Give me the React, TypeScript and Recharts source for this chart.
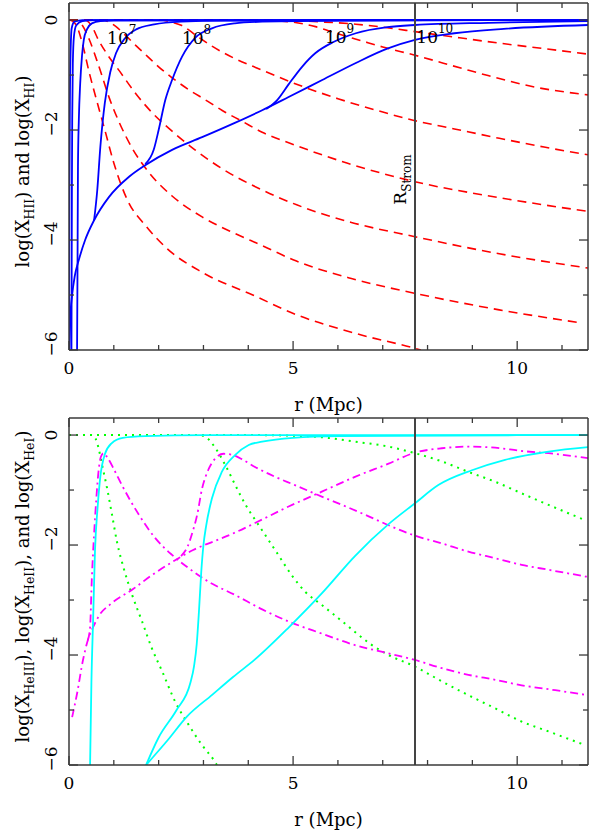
import React from "react";
import { LineChart, Line, XAxis, YAxis, ReferenceLine, ReferenceDot } from "recharts";

type Pt = [number, number];

// ---- top panel: log X_HII (solid blue) ----
const hiiA: Pt[] = [[0, -6], [0.005, -4.5], [0.01, -3], [0.02, -1.5], [0.035, -0.6], [0.06, -0.15], [0.12, -0.03], [0.3, 0], [11.58, 0]];
const hiiB: Pt[] = [[0.055, -6], [0.06, -4.5], [0.065, -3], [0.072, -1.8], [0.085, -0.8], [0.11, -0.3], [0.16, -0.1], [0.3, -0.02], [0.6, 0], [11.58, 0]];
const hiiC: Pt[] = [[0.18, -6], [0.19, -4.5], [0.2, -2.67], [0.22, -1.8], [0.25, -1.15], [0.29, -0.65], [0.33, -0.36], [0.4, -0.17], [0.51, -0.06], [0.7, -0.02], [1.0, -0.01], [11.58, 0]];
const hii1e7: Pt[] = [[0.56, -3.64], [0.63, -3.1], [0.7, -2.3], [0.8, -1.5], [0.92, -0.95], [1.05, -0.6], [1.25, -0.33], [1.5, -0.17], [1.9, -0.08], [2.5, -0.03], [3.5, -0.01], [11.58, 0]];
const hii1e8: Pt[] = [[1.7, -2.62], [1.89, -2.36], [2.0, -2.0], [2.15, -1.45], [2.3, -1.09], [2.52, -0.67], [2.82, -0.32], [3.19, -0.15], [3.7, -0.06], [4.31, -0.03], [6, -0.01], [11.58, 0]];
const hii1e9: Pt[] = [[4.4, -1.62], [4.65, -1.45], [4.9, -1.17], [5.2, -0.85], [5.5, -0.6], [5.9, -0.4], [6.4, -0.24], [7.1, -0.13], [7.72, -0.09], [9.35, -0.05], [11.58, -0.02]];
const hii1e10: Pt[] = [[0.01, -6], [0.03, -5.4], [0.07, -5.0], [0.13, -4.65], [0.22, -4.36], [0.36, -4.0], [0.56, -3.64], [0.89, -3.22], [1.34, -2.85], [1.7, -2.64], [2.3, -2.36], [2.97, -2.13], [3.7, -1.87], [4.31, -1.64], [4.9, -1.4], [5.65, -1.09], [6.4, -0.78], [7.1, -0.52], [7.72, -0.36], [8.6, -0.24], [9.7, -0.16], [11.58, -0.09]];

// ---- top panel: log X_HI (dashed red) ----
const hiA: Pt[] = [[0, 0], [4.5, 0], [5.65, -0.035], [6.4, -0.075], [7.1, -0.14], [7.72, -0.21], [8.6, -0.31], [9.6, -0.42], [10.6, -0.52], [11.58, -0.62]];
const hiB: Pt[] = [[0, 0], [4.0, 0], [4.9, -0.03], [5.5, -0.12], [6.0, -0.25], [6.5, -0.37], [7.0, -0.49], [7.72, -0.64], [8.77, -0.88], [9.35, -1.01], [10.4, -1.22], [11.58, -1.36]];
const hiC: Pt[] = [[0, 0], [2.0, 0], [2.3, -0.04], [2.52, -0.1], [2.82, -0.27], [3.2, -0.48], [3.7, -0.7], [4.31, -0.91], [4.93, -1.12], [6.0, -1.43], [6.9, -1.65], [7.72, -1.83], [8.6, -1.98], [9.6, -2.15], [10.6, -2.31], [11.58, -2.45]];
const hiD: Pt[] = [[0, 0], [0.75, 0], [0.92, -0.05], [1.05, -0.12], [1.25, -0.27], [1.5, -0.47], [1.75, -0.66], [2.0, -0.85], [2.3, -1.05], [2.68, -1.27], [3.04, -1.45], [3.41, -1.64], [3.86, -1.84], [4.31, -2.04], [4.93, -2.24], [6.2, -2.6], [7.72, -2.94], [9.6, -3.23], [11.58, -3.48]];
const hiE: Pt[] = [[0, 0], [0.35, 0], [0.5, -0.1], [0.65, -0.35], [0.85, -0.62], [1.12, -0.92], [1.5, -1.35], [1.85, -1.68], [2.3, -2.02], [2.81, -2.36], [3.41, -2.7], [4.31, -3.09], [5.08, -3.36], [6.3, -3.68], [7.72, -3.94], [9.6, -4.25], [11.58, -4.51]];
const hiF: Pt[] = [[0, 0], [0.15, 0], [0.3, -0.1], [0.45, -0.35], [0.67, -0.85], [0.9, -1.42], [1.12, -1.86], [1.41, -2.33], [1.78, -2.77], [2.3, -3.2], [2.97, -3.58], [3.7, -3.88], [4.31, -4.1], [5.0, -4.36], [6.3, -4.7], [7.72, -4.97], [9.6, -5.27], [11.45, -5.51]];
const hiG: Pt[] = [[0, 0], [0.08, -0.02], [0.18, -0.12], [0.29, -0.4], [0.45, -0.95], [0.63, -1.5], [0.8, -2.0], [1.0, -2.6], [1.29, -3.25], [1.73, -3.76], [2.18, -4.15], [3.0, -4.6], [4.1, -5.0], [5.08, -5.36], [6.4, -5.7], [7.72, -5.97], [7.85, -6.0]];

// ---- bottom panel: log X_HeIII (cyan), X_HeI (green dotted), X_HeII (magenta dash-dot) ----
const heiiiA: Pt[] = [[0.47, -6], [0.5, -4.5], [0.54, -3.3], [0.58, -2.1], [0.64, -1.3], [0.7, -0.75], [0.8, -0.35], [0.95, -0.15], [1.2, -0.05], [1.7, -0.02], [3, 0], [11.58, 0]];
const heiiiB: Pt[] = [[1.72, -6], [2.0, -5.5], [2.4, -5.0], [2.71, -4.5], [2.79, -4.2], [2.85, -3.8], [2.9, -3.2], [2.95, -2.5], [3.0, -2.0], [3.06, -1.65], [3.19, -1.15], [3.41, -0.67], [3.71, -0.36], [4.01, -0.18], [4.31, -0.12], [5.0, -0.05], [6.0, -0.02], [11.58, 0]];
const heiiiC: Pt[] = [[1.72, -6], [2.2, -5.55], [2.63, -5.12], [3.2, -4.72], [3.66, -4.4], [4.15, -4.08], [4.9, -3.5], [5.64, -2.88], [6.38, -2.2], [7.13, -1.62], [7.72, -1.24], [8.24, -0.91], [8.99, -0.64], [9.73, -0.45], [10.7, -0.3], [11.58, -0.22]];
const heiA: Pt[] = [[0, 0], [0.5, 0], [0.59, -0.06], [0.66, -0.24], [0.74, -0.55], [0.85, -0.97], [0.96, -1.45], [1.07, -1.94], [1.22, -2.42], [1.41, -2.91], [1.63, -3.39], [1.85, -3.88], [2.08, -4.3], [2.37, -4.85], [2.67, -5.27], [2.97, -5.64], [3.23, -5.91], [3.3, -6]];
const heiB: Pt[] = [[0, 0], [2.9, 0], [3.04, -0.03], [3.27, -0.24], [3.49, -0.55], [3.71, -0.91], [3.94, -1.27], [4.16, -1.55], [4.38, -1.82], [4.67, -2.18], [4.97, -2.55], [5.27, -2.85], [5.64, -3.09], [6.01, -3.33], [6.38, -3.58], [6.76, -3.82], [7.13, -4.0], [7.72, -4.21], [8.32, -4.48], [8.91, -4.73], [9.51, -4.97], [10.1, -5.21], [10.7, -5.39], [11.52, -5.64]];
const heiC: Pt[] = [[0, 0], [4.0, 0], [4.9, -0.01], [5.64, -0.04], [6.38, -0.12], [7.13, -0.21], [7.72, -0.33], [8.32, -0.48], [8.91, -0.67], [9.51, -0.85], [10.1, -1.06], [10.7, -1.27], [11.52, -1.55]];
const heiiA: Pt[] = [[0.42, -3.73], [0.47, -3.5], [0.51, -2.6], [0.56, -1.8], [0.61, -1.15], [0.66, -0.65], [0.71, -0.4], [0.77, -0.33], [0.85, -0.4], [1.0, -0.62], [1.18, -0.91], [1.56, -1.45], [1.93, -1.88], [2.3, -2.18], [2.67, -2.42], [3.12, -2.67], [3.71, -2.91], [4.31, -3.17], [4.9, -3.39], [5.64, -3.61], [6.38, -3.82], [7.13, -3.97], [7.72, -4.09], [8.32, -4.24], [8.91, -4.36], [9.51, -4.45], [10.1, -4.55], [10.85, -4.64], [11.58, -4.73]];
const heiiB: Pt[] = [[0.07, -5.13], [0.18, -4.7], [0.31, -4.1], [0.42, -3.73], [0.54, -3.49], [0.69, -3.26], [0.92, -3.08], [1.43, -2.8], [1.88, -2.53], [2.32, -2.3], [2.77, -2.09], [3.21, -1.94], [3.66, -1.79], [4.15, -1.6], [4.9, -1.3], [5.64, -1.03], [6.38, -0.76], [7.13, -0.52], [7.72, -0.32], [8.32, -0.24], [8.91, -0.21], [9.51, -0.23], [10.1, -0.29], [10.7, -0.33], [11.58, -0.42]];
const heiiC: Pt[] = [[2.5, -2.2], [2.65, -2.02], [2.75, -1.78], [2.86, -1.45], [2.97, -0.97], [3.05, -0.75], [3.12, -0.61], [3.27, -0.42], [3.45, -0.34], [3.65, -0.36], [3.9, -0.46], [4.15, -0.58], [4.6, -0.76], [5.04, -0.91], [5.64, -1.12], [6.09, -1.27], [6.61, -1.45], [7.13, -1.64], [7.72, -1.83], [8.32, -1.97], [8.91, -2.12], [9.51, -2.24], [10.1, -2.36], [10.7, -2.45], [11.58, -2.58]];

// annotations
const timeExp = ["7", "8", "9", "10"];
const timeR = [0.85, 2.52, 5.71, 7.75];
const timeLog = [-0.44, -0.44, -0.42, -0.42];
const R_STROM = 7.72;

const xTicks = [0, 1, 2, 3, 4, 5, 6, 7, 8, 9, 10, 11];
const yTicks = [-6, -5, -4, -3, -2, -1, 0];
const xLabelled = [0, 5, 10];
const yLabelled = [-6, -4, -2, 0];
const X_MAX = 11.58;
const Y_DOMAIN: [number, number] = [-6, 0.31];

const INK = "#3a3a3a";
const SERIF = "'DejaVu Serif', serif";

const pts = (a: Pt[]) => a.map(([x, y]) => ({ x, y }));
const fmt = (v: number) => (v < 0 ? "\u2212" + Math.abs(v) : String(v));

function BottomTick({ x, y, payload }: any) {
  const major = xLabelled.includes(payload.value);
  return (
    <g>
      <line x1={x} y1={y} x2={x} y2={y - (major ? 9 : 5)} stroke={INK} strokeWidth={1.3} />
      {major && (
        <text x={x} y={y + 24} textAnchor="middle" fontFamily={SERIF} fontSize={17} fill="#000">
          {fmt(payload.value)}
        </text>
      )}
    </g>
  );
}

function TopTick({ x, y, payload }: any) {
  const major = xLabelled.includes(payload.value);
  return <line x1={x} y1={y} x2={x} y2={y + (major ? 9 : 5)} stroke={INK} strokeWidth={1.3} />;
}

function LeftTick({ x, y, payload }: any) {
  const v = payload.value;
  const major = yLabelled.includes(v);
  const tx = x - 12;
  // negative labels sit a little higher, as in the original
  const ty = v < 0 ? y - 6 : y;
  return (
    <g>
      <line x1={x} y1={y} x2={x + (major ? 9 : 5)} y2={y} stroke={INK} strokeWidth={1.3} />
      {major && (
        <text x={tx} y={ty} transform={`rotate(-90 ${tx} ${ty})`} textAnchor="middle" fontFamily={SERIF} fontSize={17} fill="#000">
          {fmt(v)}
        </text>
      )}
    </g>
  );
}

function RightTick({ x, y, payload }: any) {
  const major = yLabelled.includes(payload.value);
  return <line x1={x} y1={y} x2={x - (major ? 9 : 5)} y2={y} stroke={INK} strokeWidth={1.3} />;
}

function XTitle({ viewBox }: any) {
  return (
    <text x={viewBox.x + viewBox.width / 2} y={viewBox.y + 61} textAnchor="middle" fontFamily={SERIF} fontSize={18} fill="#000">
      r (Mpc)
    </text>
  );
}

function YTitle({ viewBox, parts }: any) {
  const cx = viewBox.x + viewBox.width - 40;
  const cy = viewBox.y + viewBox.height / 2 - 5;
  const spans: React.ReactNode[] = [];
  parts.forEach(([t, s]: [string, string], i: number) => {
    spans.push(<tspan key={"t" + i} dy={i === 0 ? 0 : -5}>{t}</tspan>);
    if (s) spans.push(<tspan key={"s" + i} fontSize={12.5} dy={5}>{s}</tspan>);
  });
  return (
    <text x={cx} y={cy} transform={`rotate(-90 ${cx} ${cy})`} textAnchor="middle" fontFamily={SERIF} fontSize={18} fill="#000">
      {spans}
    </text>
  );
}

function PowLabel({ viewBox, exp }: any) {
  return (
    <text x={viewBox.x} y={viewBox.y} fontFamily={SERIF} fontSize={17} fill="#000">
      10<tspan fontSize={12} dy={-10}>{exp}</tspan>
    </text>
  );
}

function StromLabel({ viewBox }: any) {
  const x = viewBox.x - 9;
  const y = viewBox.y;
  return (
    <text x={x} y={y} transform={`rotate(-90 ${x} ${y})`} textAnchor="middle" fontFamily={SERIF} fontSize={17} fill="#000">
      R<tspan fontSize={12} dy={5}>Strom</tspan>
    </text>
  );
}

const axisLine = { stroke: INK, strokeWidth: 1.5 };

// axes get a 1px band (Recharts skips zero-sized axes); ticks sit on the plot edges
function axes(titleParts: [string, string][]) {
  return [
    <XAxis key="xb" dataKey="x" type="number" domain={[0, X_MAX]} ticks={xTicks} interval={0} allowDataOverflow
      height={1} tickSize={0} tickMargin={0} axisLine={axisLine} tickLine={false} tick={<BottomTick />} label={<XTitle />} />,
    <XAxis key="xt" xAxisId="top" orientation="top" dataKey="x" type="number" domain={[0, X_MAX]} ticks={xTicks} interval={0}
      allowDataOverflow height={1} tickSize={0} tickMargin={0} axisLine={axisLine} tickLine={false} tick={<TopTick />} />,
    <YAxis key="yl" type="number" domain={Y_DOMAIN} ticks={yTicks} interval={0} allowDataOverflow width={1} tickSize={0}
      tickMargin={0} axisLine={axisLine} tickLine={false} tick={<LeftTick />} label={<YTitle parts={titleParts} />} />,
    <YAxis key="yr" yAxisId="right" orientation="right" type="number" domain={Y_DOMAIN} ticks={yTicks} interval={0}
      allowDataOverflow width={1} tickSize={0} tickMargin={0} axisLine={axisLine} tickLine={false} tick={<RightTick />} />,
  ];
}

const solid = (key: string, d: Pt[], color: string, w: number) => (
  <Line key={key} data={pts(d)} dataKey="y" type="monotone" stroke={color} strokeWidth={w} dot={false} isAnimationActive={false} />
);
const dashed = (key: string, d: Pt[], color: string, w: number, dash: string) => (
  <Line key={key} data={pts(d)} dataKey="y" type="monotone" stroke={color} strokeWidth={w} strokeDasharray={dash}
    dot={false} isAnimationActive={false} />
);

export default function App() {
  const red = [hiA, hiB, hiC, hiD, hiE, hiF, hiG];
  const blue = [hiiA, hiiB, hiiC, hii1e7, hii1e8, hii1e9, hii1e10];
  return (
    <div style={{ position: "absolute", left: 0, top: 0, width: 590, height: 833, background: "#fff" }}>
      <div style={{ position: "absolute", left: 0, top: 0 }}>
        <LineChart width={590} height={415} margin={{ top: 2, right: 1, bottom: 64, left: 68 }}>
          {axes([["log(X", "HII"], [") and log(X", "HI"], [")", ""]])}
          {red.map((d, i) => dashed("hi" + i, d, "#ff0000", 1.6, "9 6"))}
          {blue.map((d, i) => solid("hii" + i, d, "#0000ff", 1.8))}
          <ReferenceLine x={R_STROM} stroke="#444" strokeWidth={2} />
          <ReferenceDot x={R_STROM} y={-2.9} r={0} stroke="none" fill="none" label={<StromLabel />} />
          {timeExp.map((e, i) => (
            <ReferenceDot key={"t" + e} x={timeR[i]} y={timeLog[i]} r={0} stroke="none" fill="none" label={<PowLabel exp={e} />} />
          ))}
        </LineChart>
      </div>
      <div style={{ position: "absolute", left: 0, top: 415 }}>
        <LineChart width={590} height={418} margin={{ top: 2, right: 1, bottom: 67, left: 68 }}>
          {axes([["log(X", "HeIII"], ["), log(X", "HeII"], ["), and log(X", "HeI"], [")", ""]])}
          {[heiA, heiB, heiC].map((d, i) => dashed("hei" + i, d, "#00ff00", 2, "2 5"))}
          {[heiiA, heiiB, heiiC].map((d, i) => dashed("heii" + i, d, "#ff00ff", 1.8, "8 4 2 4"))}
          {[heiiiA, heiiiB, heiiiC].map((d, i) => solid("heiii" + i, d, "#00ffff", 1.8))}
          <ReferenceLine x={R_STROM} stroke="#444" strokeWidth={2} />
        </LineChart>
      </div>
    </div>
  );
}
